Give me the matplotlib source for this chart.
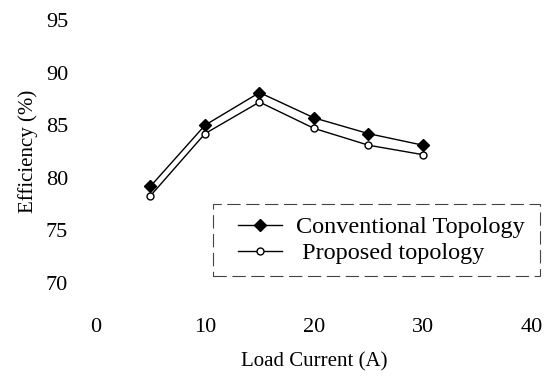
import matplotlib.pyplot as plt
from matplotlib.patches import Rectangle

plt.rcParams['font.family'] = ['Liberation Serif', 'DejaVu Serif']

load_current = [5, 10, 15, 20, 25, 30]
conventional = [79.2, 85.0, 88.1, 85.7, 84.2, 83.1]
proposed = [78.3, 84.2, 87.2, 84.7, 83.1, 82.2]

fig = plt.figure(figsize=(5.53, 3.76), dpi=100)
ax = fig.add_axes([0.1736, 0.247, 0.7884, 0.7])

ax.plot(load_current, conventional, color='black', lw=1.0, marker='D', ms=6.5,
        mfc='black', mec='black', label='Conventional Topology')
ax.plot(load_current, proposed, color='black', lw=1.0, marker='o', ms=5,
        mfc='white', mec='black', label=' Proposed topology')

ax.set_xlim(0, 40)
ax.set_ylim(70, 95)
ax.set_xticks([0, 10, 20, 30, 40])
ax.set_yticks([70, 75, 80, 85, 90, 95])
for s in ax.spines.values():
    s.set_visible(False)
ax.tick_params(axis='both', length=0, labelsize=16)
ax.tick_params(axis='y', pad=20)
ax.tick_params(axis='x', pad=25)

ax.set_xlabel('Load Current (A)', fontsize=15, labelpad=11)
ax.set_ylabel('Efficiency (%)', fontsize=15, labelpad=6)

# legend without its own frame, dashed box drawn separately
leg = ax.legend(loc='upper left', bbox_to_anchor=(238 / 553, 1 - 216 / 376),
                bbox_transform=fig.transFigure, fontsize=17.5,
                frameon=False, handlelength=1.8,
                borderpad=0, labelspacing=0.17, handletextpad=0.6,
                borderaxespad=0)
box = Rectangle((213 / 553, 1 - 276 / 376), 327 / 553, 72 / 376,
                transform=fig.transFigure, fill=False, edgecolor='#444444',
                linewidth=0.8, linestyle=(0, (12, 5)))
fig.patches.append(box)

fig.savefig('out.png', dpi=100)
